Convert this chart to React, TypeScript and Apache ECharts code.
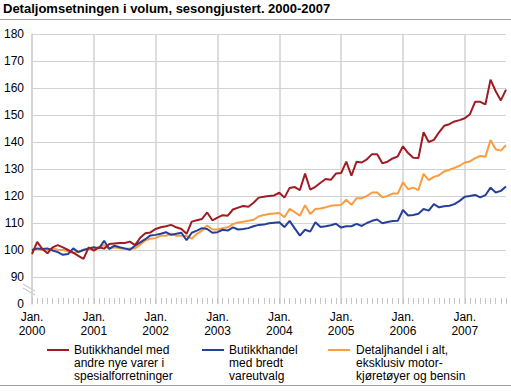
import React, { useEffect, useRef } from "react";
import * as echarts from "echarts";

const title = "Detaljomsetningen i volum, sesongjustert. 2000-2007";

const seriesNames = [
  "Butikkhandel med\nandre nye varer i\nspesialforretninger",
  "Butikkhandel\nmed bredt\nvareutvalg",
  "Detaljhandel i alt,\neksklusiv motor-\nkjøretøyer og bensin",
];

const monthCount = 93; // Jan 2000 - Sep 2007
const months: string[] = [];
for (let i = 0; i < monthCount; i++) {
  const y = 2000 + Math.floor(i / 12);
  const m = (i % 12) + 1;
  months.push(`${y}-${m < 10 ? "0" + m : m}`);
}

const spesialValues = [
  98.5, 103, 100.4, 98.8, 101, 101.8, 101, 100, 99, 97.8, 96.7, 101,
  99.8, 101, 100.5, 102.2, 102.4, 102.6, 102.6, 103.1, 101.8, 104.5, 106.2, 106.5,
  107.8, 108.4, 108.8, 109.3, 108.4, 107.8, 106, 110.5, 111, 111.5, 113.9, 111,
  112, 112.9, 112.7, 115, 115.7, 116.3, 116, 117.5, 119.4, 119.7, 120, 120.2,
  121.2, 119.4, 123, 123.3, 122.2, 128.3, 122.4, 123.4, 124.9, 126.3, 126, 128.3,
  128.5, 132.7, 127.5, 132.7, 132.4, 133.6, 135.5, 135.5, 132.1, 132.7, 133.9, 134.7,
  138.4, 135.9, 134.2, 134.1, 143.6, 140, 140.8, 143.6, 146, 146.6, 147.6, 148.1,
  148.8, 150.3, 154.9, 154.9, 153.9, 163.1, 158.8, 155.4, 159.4,
];

const bredtValues = [
  100, 100.6, 100.4, 100.6, 99.8, 99.2, 98.2, 98.5, 100.6, 99.2, 100, 100.6,
  101, 100.6, 103.4, 100.4, 101.6, 101, 100.6, 100.1, 101.6, 102.8, 104, 105.4,
  105.6, 106, 106.6, 105.6, 106, 106.4, 103.6, 106.4, 107.2, 108.1, 107.8, 106.4,
  106.6, 107.5, 107.2, 108.4, 107.6, 107.8, 108.1, 108.8, 109.3, 109.4, 109.9, 110.1,
  110.3, 108.5, 110.8, 108, 105.3, 107.5, 106.8, 110.3, 108.5, 108.8, 109.2, 109.7,
  108.3, 108.8, 108.8, 109.7, 108.9, 110, 110.8, 111.3, 109.9, 110.4, 110.7, 110.8,
  114.8, 112.8, 113, 113.4, 115.2, 114.6, 117, 115.8, 116.2, 116.4, 117, 118.2,
  119.7, 120, 120.4, 119.5, 120.3, 123.1, 121.3, 121.9, 123.5,
];

const altValues = [
  99.8, 100.4, 100, 100.1, 100.6, 100.1, 100, 99.4, 98.9, 99.4, 100.1, 100.4,
  100.6, 101, 101.8, 100.4, 101, 100.6, 100.4, 100.6, 100.6, 102, 103.5, 104.2,
  104.4, 105.3, 105.3, 106, 105.3, 105.3, 105.2, 104.2, 106, 107.2, 109.1, 107.6,
  107.6, 108.1, 108.4, 109.6, 110.2, 110.5, 110.8, 111.2, 112.4, 113, 113.3, 113.5,
  113.7, 112.1, 115.2, 114, 112.7, 116.6, 113.3, 115.2, 115.4, 115.8, 116.4, 116.6,
  116.7, 118.6, 116.7, 119.2, 119.2, 120, 121.3, 121.3, 119.5, 120, 120.9, 120.9,
  125.1, 122.5, 123.1, 122.2, 128.2, 125.9, 127.1, 127.7, 129.1, 129.7, 130.4, 131.2,
  132.4, 132.8, 134, 134.8, 134.5, 140.7, 137.3, 136.8, 138.8,
];

const colors = ["#a01c22", "#26409a", "#f99d3e"];
const yMin = 80; // shown as "0" (broken axis)
const yMax = 180;
const yStep = 10;

const FONT = "Arial, 'Liberation Sans', sans-serif";

export default function App() {
  const ref = useRef<HTMLDivElement>(null);
  useEffect(() => {
    document.body.style.margin = "0";
    if (!ref.current) return;
    const chart = echarts.init(ref.current, undefined, { renderer: "svg" });
    const gridColor = "#d2d2d2";
    const splitColors: string[] = [];
    for (let v = yMin; v <= yMax; v += yStep) splitColors.push(v === yMin ? "rgba(0,0,0,0)" : gridColor);

    const legendX = [[47, 74], [202, 229], [328, 356]];
    const legendGraphics: any[] = [];
    seriesNames.forEach((name, i) => {
      legendGraphics.push({
        type: "line",
        shape: { x1: legendX[i][0], y1: 350, x2: legendX[i][0] + 22, y2: 350 },
        style: { stroke: colors[i], lineWidth: 2 },
      });
      legendGraphics.push({
        type: "text",
        x: legendX[i][1],
        y: 343,
        style: { text: name, font: `12px ${FONT}`, fill: "#000", lineHeight: 13 },
      });
    });

    chart.setOption({
      animation: false,
      backgroundColor: "#fff",
      textStyle: { fontFamily: FONT },
      grid: { left: 32, right: 5, top: 34, bottom: 87, containLabel: false },
      xAxis: {
        type: "category",
        data: months,
        boundaryGap: false,
        axisLine: { show: false },
        axisTick: {
          show: true,
          inside: true,
          length: 6,
          interval: 0,
          lineStyle: { color: "#c4c4c4" },
        },
        axisLabel: {
          interval: (idx: number) => idx % 12 === 0,
          formatter: (val: string) => `Jan.\n${val.slice(0, 4)}`,
          color: "#000",
          fontSize: 12,
          lineHeight: 14,
          margin: 6,
          fontFamily: FONT,
        },
        splitLine: {
          show: true,
          interval: (idx: number) => idx % 12 === 0,
          lineStyle: { color: gridColor, width: 1.5 },
        },
      },
      yAxis: {
        type: "value",
        min: yMin,
        max: yMax,
        interval: yStep,
        axisLine: { show: true, lineStyle: { color: gridColor, width: 1.5 } },
        axisTick: { show: false },
        axisLabel: {
          formatter: (v: number) => (v === yMin ? "0" : String(v)),
          color: "#000",
          fontSize: 12,
          margin: 8,
          fontFamily: FONT,
        },
        splitLine: { show: true, lineStyle: { color: splitColors, width: 1 } },
      },
      series: [spesialValues, bredtValues, altValues].map((d, i) => ({
        type: "line",
        name: seriesNames[i],
        data: d,
        symbol: "none",
        lineStyle: { color: colors[i], width: 2 },
        itemStyle: { color: colors[i] },
        z: 3 - i,
      })),
      graphic: [
        {
          type: "text",
          x: 3,
          y: 2,
          style: { text: title, font: `bold 13px ${FONT}`, fill: "#000" },
        },
        { type: "line", shape: { x1: 0, y1: 19.5, x2: 511, y2: 19.5 }, style: { stroke: "#a0a0a0", lineWidth: 1 } },
        { type: "line", shape: { x1: 0, y1: 385.5, x2: 511, y2: 385.5 }, style: { stroke: "#a0a0a0", lineWidth: 1 } },
        { type: "rect", shape: { x: 28, y: 283, width: 8, height: 12 }, style: { fill: "#fff" } },
        { type: "line", shape: { x1: 23, y1: 284, x2: 35, y2: 291 }, style: { stroke: "#bdbdbd", lineWidth: 1 } },
        { type: "line", shape: { x1: 23, y1: 288, x2: 35, y2: 295 }, style: { stroke: "#bdbdbd", lineWidth: 1 } },
        ...legendGraphics,
      ],
    });
    return () => chart.dispose();
  }, []);
  return <div ref={ref} style={{ width: 511, height: 391 }} />;
}
